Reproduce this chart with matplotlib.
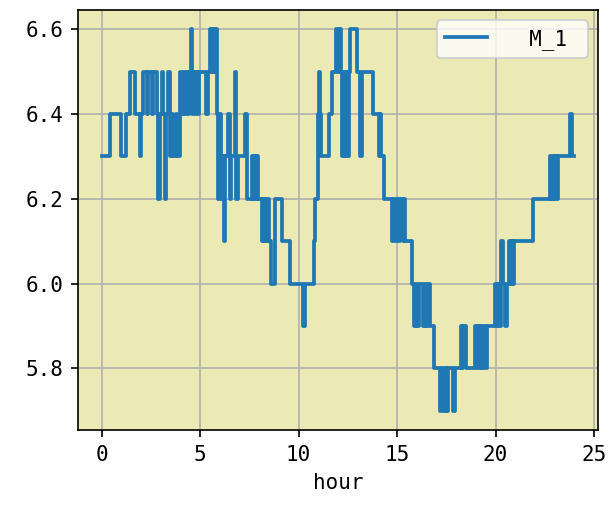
import matplotlib
matplotlib.use("Agg")
import matplotlib.pyplot as plt

plt.rcParams['font.family'] = ['DejaVu Sans Mono', 'Noto Sans CJK JP']

hours = [0.00, 0.41, 1.00, 1.25, 1.42, 1.68, 1.93, 2.00, 2.08, 2.28, 2.36, 2.55, 2.62, 2.80,
         2.88, 2.96, 3.04, 3.14, 3.20, 3.28, 3.36, 3.46, 3.58, 3.64, 3.78, 3.84, 3.96, 4.04,
         4.12, 4.20, 4.28, 4.36, 4.44, 4.52, 4.60, 4.66, 4.72, 4.80, 4.88, 4.94, 5.30, 5.38,
         5.50, 5.58, 5.64, 5.72, 5.78, 5.86, 5.90, 5.96, 6.02, 6.06, 6.12, 6.20, 6.26, 6.44,
         6.52, 6.58, 6.76, 6.84, 6.90, 7.27, 7.36, 7.62, 7.68, 7.76, 7.82, 7.90, 7.96, 8.12,
         8.18, 8.24, 8.30, 8.36, 8.46, 8.52, 8.62, 8.78, 9.15, 9.55, 10.24, 10.32, 10.76, 10.84,
         11.00, 11.06, 11.10, 11.14, 11.52, 11.69, 11.90, 12.00, 12.04, 12.14, 12.20, 12.28,
         12.34, 12.42, 12.48, 12.54, 12.62, 12.94, 13.12, 13.24, 13.80, 14.06, 14.12, 14.20,
         14.34, 14.72, 14.80, 14.90, 14.98, 15.08, 15.16, 15.28, 15.34, 15.42, 15.76, 15.88,
         15.96, 16.02, 16.10, 16.30, 16.40, 16.46, 16.58, 16.66, 16.86, 17.20, 17.30, 17.36,
         17.48, 17.52, 17.60, 17.82, 17.94, 18.22, 18.30, 18.36, 18.50, 18.96, 19.04, 19.10,
         19.20, 19.26, 19.32, 19.40, 19.50, 19.56, 19.98, 20.06, 20.12, 20.18, 20.30, 20.40,
         20.46, 20.60, 20.70, 20.76, 20.82, 20.88, 20.92, 21.90, 22.76, 22.82, 22.90, 22.96,
         23.04, 23.10, 23.16, 23.76, 23.86, 24.00]

m1 = [6.3, 6.4, 6.3, 6.4, 6.5, 6.4, 6.3, 6.4, 6.5, 6.4, 6.5, 6.4, 6.5, 6.4,
      6.2, 6.4, 6.5, 6.4, 6.2, 6.4, 6.5, 6.3, 6.4, 6.3, 6.4, 6.3, 6.5, 6.4,
      6.5, 6.4, 6.5, 6.4, 6.5, 6.6, 6.4, 6.5, 6.4, 6.5, 6.4, 6.5, 6.4, 6.5,
      6.6, 6.5, 6.6, 6.5, 6.6, 6.4, 6.2, 6.3, 6.4, 6.2, 6.3, 6.1, 6.3, 6.4,
      6.2, 6.3, 6.5, 6.2, 6.3, 6.4, 6.2, 6.3, 6.2, 6.3, 6.2, 6.3, 6.2, 6.1,
      6.2, 6.1, 6.2, 6.1, 6.2, 6.1, 6.0, 6.2, 6.1, 6.0, 5.9, 6.0, 6.1, 6.2,
      6.4, 6.5, 6.4, 6.3, 6.4, 6.5, 6.6, 6.5, 6.6, 6.5, 6.3, 6.5,
      6.3, 6.5, 6.3, 6.5, 6.6, 6.5, 6.3, 6.5, 6.4, 6.3, 6.4, 6.3,
      6.2, 6.1, 6.2, 6.1, 6.2, 6.1, 6.2, 6.1, 6.2, 6.1, 6.0, 5.9,
      6.0, 5.9, 6.0, 5.9, 6.0, 5.9, 6.0, 5.9, 5.8, 5.7, 5.8, 5.7,
      5.8, 5.7, 5.8, 5.7, 5.8, 5.9, 5.8, 5.9, 5.8, 5.9, 5.8, 5.9,
      5.8, 5.9, 5.8, 5.9, 5.8, 5.9, 6.0, 5.9, 6.0, 5.9, 6.1, 6.0,
      5.9, 6.0, 6.1, 6.0, 6.1, 6.0, 6.1, 6.2, 6.3, 6.2, 6.3, 6.2,
      6.3, 6.2, 6.3, 6.4, 6.3, 6.3]

series_label = "  M_1 "
x_label = "hour"

fig = plt.figure(figsize=(613 / 150, 512 / 150), dpi=150)
ax = fig.add_axes([78 / 613, 82 / 512, 520 / 613, 420 / 512])
ax.set_facecolor('#ebe9b4')
ax.plot(hours, m1, drawstyle='steps-post', color='#1f77b4', lw=1.8, label=series_label)
ax.grid(True, color='#b0b0b0', lw=0.8)
ax.set_axisbelow(True)
ax.set_xlabel(x_label)
ax.set_xticks([0, 5, 10, 15, 20, 25])
ax.set_yticks([5.8, 6.0, 6.2, 6.4, 6.6])
ax.set_yticklabels(['5.8', '6.0', '6.2', '6.4', '6.6'])
ax.legend(loc='upper right')
fig.savefig('out.png', dpi=150)
